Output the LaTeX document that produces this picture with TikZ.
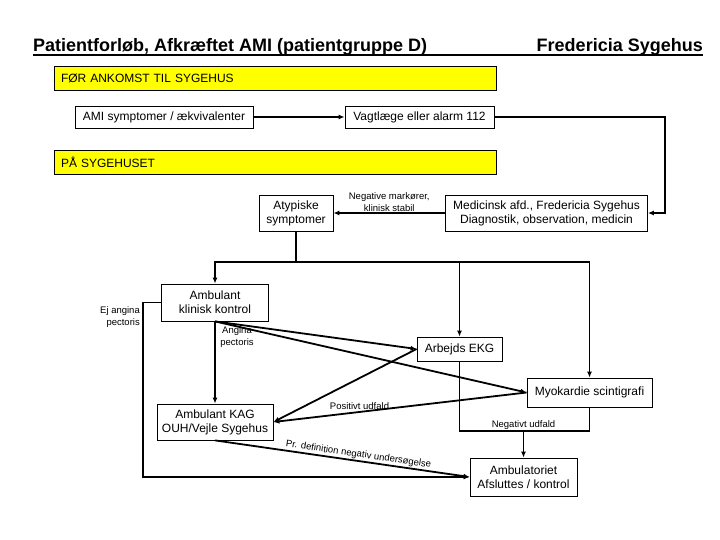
\documentclass[tikz,border=0pt]{standalone}
\usepackage{fontspec}
\setmainfont{Liberation Sans}
\definecolor{PhaseYellow}{HTML}{FFFF00}
\usetikzlibrary{arrows.meta, positioning}
\tikzset{
  % Box styles
  phasebox/.style={rectangle, draw=black, line width=0.8pt, fill=PhaseYellow, minimum width=442pt, minimum height=24pt, text width=428pt, align=left, inner xsep=7pt, font=\fontsize{12}{14}\selectfont},
  stepbox/.style={rectangle, draw=black, line width=0.8pt, fill=white, inner sep=0pt, align=center, font=\fontsize{12}{14}\selectfont},
  % Text styles
  titletext/.style={inner sep=0pt, anchor=base west, font=\fontsize{18}{20}\selectfont\bfseries},
  smalllabel/.style={inner sep=1pt, align=center, font=\fontsize{9.5}{12}\selectfont},
  % Arrow styles
  arrow/.style={-{Latex[length=6pt, width=5pt]}, line width=1.8pt},
  link/.style={line width=1.8pt}
}

\begin{document}
\begin{tikzpicture}[x=1pt, y=-1pt]
  \useasboundingbox (0,0) rectangle (720,540);

  % Heading
  \node[titletext] (title) at (33,52) {Patientforløb, Afkræftet AMI (patientgruppe D)};
  \node[titletext, anchor=base east] (hospital) at (703,52) {Fredericia Sygehus};
  \draw[line width=1.6pt] ([yshift=-3pt]title.base west) -- ([yshift=-3pt]hospital.base east);

  % Before arrival
  \node[phasebox] (before) at (275,78) {FØR ANKOMST TIL SYGEHUS};
  \node[stepbox, minimum width=178pt, minimum height=22pt] (symptoms) at (164,117) {AMI symptomer / ækvivalenter};
  \node[stepbox, minimum width=149pt, minimum height=22pt] (gp) at (419.5,117) {Vagtlæge eller alarm 112};

  % At the hospital
  \node[phasebox] (inhospital) at (275,162) {PÅ SYGEHUSET};
  \node[stepbox, minimum width=74pt, minimum height=36pt] (atypical) at (296,213) {Atypiske\\symptomer};
  \node[stepbox, minimum width=202pt, minimum height=36pt] (medical) at (546.5,213) {Medicinsk afd., Fredericia Sygehus\\Diagnostik, observation, medicin};
  \node[stepbox, minimum width=107pt, minimum height=37pt] (checkup) at (215,302.5) {Ambulant\\klinisk kontrol};
  \node[stepbox, minimum width=85pt, minimum height=24pt] (ecg) at (459.5,349) {Arbejds EKG};
  \node[stepbox, minimum width=125pt, minimum height=29pt] (scan) at (589.5,392.5) {Myokardie scintigrafi};
  \node[stepbox, minimum width=116pt, minimum height=36pt] (kag) at (215,422) {Ambulant KAG\\OUH/Vejle Sygehus};
  \node[stepbox, minimum width=107pt, minimum height=38pt] (clinic) at (523.5,477) {Ambulatoriet\\Afsluttes / kontrol};

  % Bends and joints
  \coordinate (gpbend) at (665,117);
  \coordinate (split) at (296,262);
  \coordinate (ejbend) at (143,302.5);
  \coordinate (negjoin) at (523.5,431);

  % Connectors
  \draw[arrow] (symptoms) -- (gp);
  \draw[arrow] (gp.east) -- (gpbend) |- (medical.east);
  \draw[arrow] (medical.west) -- node[smalllabel, above] (stablelabel) {Negative markører,\\klinisk stabil} (atypical.east);
  \draw[link] (atypical.south) -- (split);
  \draw[arrow] (split) -| (checkup.north);
  \draw[arrow] (split) -| (ecg.north);
  \draw[arrow] (split) -| (scan.north);
  \draw[arrow] (checkup.south) -- (kag.north);
  \draw[arrow] (checkup.south) -- (ecg.west);
  \draw[arrow] (checkup.south) -- (scan.west);
  \draw[arrow] (ecg.west) -- (kag.east);
  \draw[arrow] (scan.west) -- node[smalllabel, pos=0.66, above] (poslabel) {Positivt udfald} (kag.east);
  \draw[link] (ecg.south) |- (negjoin) -| (scan.south);
  \draw[arrow] (negjoin) -- (clinic.north);
  \draw[arrow] (checkup.west) -- (ejbend) |- (clinic.west);
  \draw[arrow] (kag.south) -- node[smalllabel, sloped, above, pos=0.56] (kaglabel) {Pr. definition negativ undersøgelse} (clinic.west);

  % Labels
  \node[smalllabel, above] (neglabel) at (negjoin) {Negativt udfald};
  \node[smalllabel, anchor=north] (anginalabel) at (237,325) {Angina\\pectoris};
  \node[smalllabel, align=right, anchor=north east] (noanginalabel) at (141,305) {Ej angina\\pectoris};
\end{tikzpicture}
\end{document}
